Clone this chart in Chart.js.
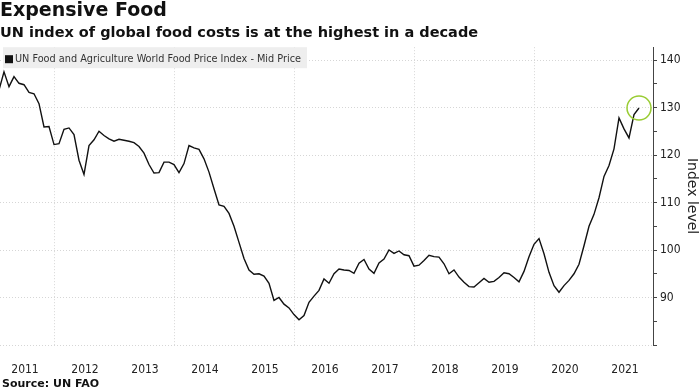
<!DOCTYPE html>
<html>
<head>
<meta charset="utf-8">
<script src="https://cdn.jsdelivr.net/npm/chart.js@4.4.1/dist/chart.umd.min.js"></script>
<style>
    html, body { margin: 0; padding: 0; background: #fff; }
    #wrap { position: relative; width: 700px; height: 391px; }
</style>
</head>
<body>
<div id="wrap"><canvas id="foodChart" width="700" height="391"></canvas></div>
<script>
// monthly FAO food price index, Jan 2011 .. Sep 2021
const foodIndex = [
    133.7, 137.5, 134.4, 136.5, 135.1, 134.8, 133.2, 132.9, 130.8, 125.9, 126.0, 122.2,
    122.4, 125.4, 125.7, 124.3, 118.9, 115.9, 122.0, 123.2, 125.0, 124.1, 123.4, 122.9,
    123.3, 123.1, 122.9, 122.6, 121.8, 120.4, 118.0, 116.2, 116.3, 118.5, 118.5, 118.0,
    116.3, 118.2, 122.0, 121.5, 121.2, 119.2, 116.4, 112.9, 109.5, 109.2, 107.7, 105.0,
    101.6, 98.2, 95.8, 94.9, 95.0, 94.5, 93.0, 89.4, 90.0, 88.6, 87.8, 86.4,
    85.3, 86.2, 89.0, 90.3, 91.5, 93.9, 93.0, 95.0, 96.0, 95.8, 95.7, 95.1,
    97.2, 98.0, 96.0, 95.1, 97.3, 98.1, 100.0, 99.3, 99.8, 99.0, 98.8, 96.6,
    96.8, 97.8, 98.9, 98.6, 98.5, 97.1, 95.0, 95.8, 94.3, 93.2, 92.3, 92.2,
    93.1, 94.0, 93.2, 93.4, 94.2, 95.2, 95.0, 94.2, 93.3, 95.5, 98.6, 101.2,
    102.4, 99.2, 95.3, 92.5, 91.1, 92.5, 93.6, 95.0, 97.0, 100.9, 105.0, 107.5,
    111.0, 115.5, 117.8, 121.3, 127.8, 125.5, 123.6, 128.5, 129.9
]
const yearLabels = ['2011', '2012', '2013', '2014', '2015', '2016', '2017', '2018', '2019', '2020', '2021']
const yTickValues = [80, 85, 90, 95, 100, 105, 110, 115, 120, 125, 130, 135, 140]
const yLabelValues = [90, 100, 110, 120, 130, 140]

const chartTitle = 'Expensive Food'
const chartSubtitle = 'UN index of global food costs is at the highest in a decade'
const seriesName = 'UN Food and Agriculture World Food Price Index - Mid Price'
const yAxisTitle = 'Index level'
const sourceNote = 'Source: UN FAO'

const tickFont = '"DejaVu Sans Condensed", "DejaVu Sans", sans-serif'
const boldFont = '"DejaVu Sans", sans-serif'
const lastIdx = foodIndex.length - 1

// month 0 = Jan 2011 (plotted at month end), labels sit mid-year
const points = foodIndex.map((v, i) => ({x: i, y: v}))

const chromePlugin = {
    id: 'chrome',
    beforeDatasetsDraw(chart) {
        const ctx = chart.ctx
        const area = chart.chartArea
        ctx.save()
        ctx.fillStyle = '#eeeeee'
        ctx.fillRect(area.left + 3, area.top, 304, 21)
        ctx.fillStyle = '#111'
        ctx.fillRect(area.left + 5, area.top + 8, 8, 8)
        ctx.font = '10.8px ' + tickFont
        ctx.fillStyle = '#333'
        ctx.textBaseline = 'middle'
        ctx.fillText(seriesName, area.left + 15, area.top + 12)
        ctx.restore()
    },
    afterDraw(chart) {
        const ctx = chart.ctx
        ctx.save()
        ctx.font = 'bold 11px ' + boldFont
        ctx.fillStyle = '#111'
        ctx.textBaseline = 'middle'
        ctx.fillText(sourceNote, 2, 384)
        ctx.restore()
    }
}

new Chart(document.getElementById('foodChart'), {
    type: 'line',
    data: {
        datasets: [{
            label: seriesName,
            data: points,
            borderColor: '#111',
            borderWidth: 1.4,
            tension: 0,
            pointRadius: ctx => ctx.dataIndex === lastIdx ? 12 : 0,
            pointHoverRadius: 0,
            pointBorderColor: '#99cc33',
            pointBackgroundColor: 'transparent',
            pointBorderWidth: 1.5
        }]
    },
    options: {
        responsive: false,
        animation: false,
        events: [],
        layout: {autoPadding: false, padding: {left: 0, right: 0, top: 0, bottom: 13}},
        plugins: {
            legend: {display: false},
            tooltip: {enabled: false},
            title: {
                display: true,
                text: chartTitle,
                align: 'start',
                color: '#111',
                font: {family: boldFont, size: 19, weight: 'bold'},
                padding: {top: 0, bottom: 0}
            },
            subtitle: {
                display: true,
                text: chartSubtitle,
                align: 'start',
                color: '#111',
                font: {family: boldFont, size: 14.5, weight: 'bold'},
                padding: {top: 2, bottom: 5}
            }
        },
        scales: {
            x: {
                type: 'linear',
                min: 0.2,
                max: 130.8,
                afterBuildTicks: axis => {
                    const ticks = []
                    for (let k = 0; k < yearLabels.length * 2 - 1; k++) ticks.push({value: 5.2 + 6 * k})
                    axis.ticks = ticks
                },
                afterFit: axis => {
                    axis.height = 33
                    axis.paddingLeft = 0
                    axis.paddingRight = 0
                },
                ticks: {
                    autoSkip: false,
                    maxRotation: 0,
                    padding: 18,
                    color: '#222',
                    font: {family: tickFont, size: 12},
                    callback: (value, index) => index % 2 === 0 ? yearLabels[index / 2] : ''
                },
                grid: {
                    drawTicks: false,
                    lineWidth: 1,
                    color: ctx => ctx.index % 4 === 1 ? '#d6d6d6' : 'transparent'
                },
                border: {display: false, dash: [1, 2]}
            },
            y: {
                position: 'right',
                min: 80,
                max: 142.7,
                afterBuildTicks: axis => { axis.ticks = yTickValues.map(v => ({value: v})) },
                afterFit: axis => { axis.width = 47 },
                ticks: {
                    padding: 3,
                    color: '#222',
                    font: {family: tickFont, size: 12},
                    callback: value => yLabelValues.includes(value) ? String(value) : ''
                },
                grid: {
                    drawTicks: true,
                    tickLength: 4,
                    tickColor: '#444',
                    color: ctx => ctx.tick && ctx.tick.value % 10 === 0 ? '#d6d6d6' : 'transparent'
                },
                border: {display: true, color: '#444', width: 1, dash: [1, 2]},
                title: {
                    display: true,
                    text: yAxisTitle,
                    color: '#222',
                    font: {family: boldFont, size: 14},
                    padding: {top: 0, bottom: 0}
                }
            }
        }
    },
    plugins: [chromePlugin]
})
</script>
</body>
</html>
